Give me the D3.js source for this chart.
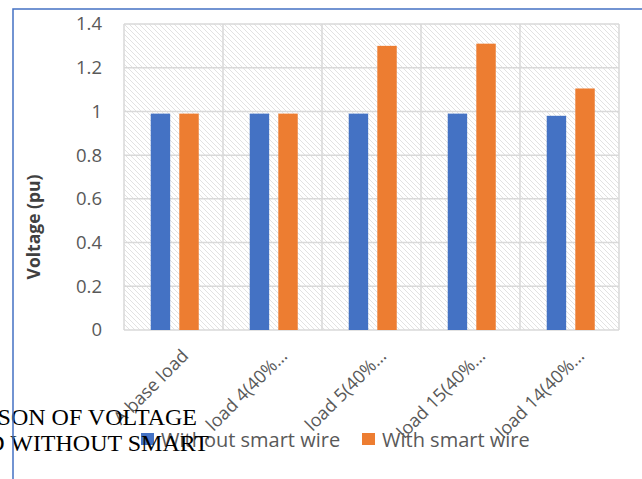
<!DOCTYPE html>
<html>
<head>
<meta charset="utf-8">
<script src="https://cdn.jsdelivr.net/npm/d3@7"></script>
<style>
  body { margin: 0; background: #fff; }
  svg { display: block; }
</style>
</head>
<body>
<div id="wrapper"></div>
<script>
// chart values
const categories = ["A base load", "load 4(40%…", "load 5(40%…", "load 15(40%…", "load 14(40%…"]
const seriesNames = ["Without smart wire", "With smart wire"]
const withoutSmartWire = [0.99, 0.99, 0.99, 0.99, 0.98]
const withSmartWire = [0.99, 0.99, 1.30, 1.31, 1.105]
const yTicks = [0, 0.2, 0.4, 0.6, 0.8, 1, 1.2, 1.4]
const titleLines = ["SON OF VOLTAGE", "D WITHOUT SMART"]

const colors = ["#4472c4", "#ed7d31"]
const gridColor = "#d9d9d9"
const textColor = "#595959"
const font = "'Open Sans', 'Liberation Sans', sans-serif"

const dims = {
    width: 642,
    height: 479,
    margin: { top: 24, right: 23, bottom: 149, left: 124 }
}
dims.boundWidth = dims.width - dims.margin.left - dims.margin.right
dims.boundHeight = dims.height - dims.margin.top - dims.margin.bottom

const svg = d3.select("#wrapper")
    .append("svg")
        .attr("width", dims.width)
        .attr("height", dims.height)

// light diagonal hatch for the plot area
const defs = svg.append("defs")
const pattern = defs.append("pattern")
    .attr("id", "hatch")
    .attr("patternUnits", "userSpaceOnUse")
    .attr("width", 5)
    .attr("height", 5)
pattern.append("rect").attr("width", 5).attr("height", 5).attr("fill", "#fff")
pattern.append("path")
    .attr("d", "M0,0 L5,5 M-1,4 L1,6 M4,-1 L6,1")
    .attr("stroke", "#e2e2e2")
    .attr("stroke-width", 1)

const bound = svg.append("g")
    .attr("transform", `translate(${dims.margin.left},${dims.margin.top})`)

const yScale = d3.scaleLinear()
    .domain([0, 1.4])
    .range([dims.boundHeight, 0])

const x0 = d3.scaleBand()
    .domain(categories)
    .range([0, dims.boundWidth])
    .padding(0)

const x1 = d3.scaleBand()
    .domain(seriesNames)
    .range([x0.bandwidth() * 0.27, x0.bandwidth() * 0.755])
    .paddingInner(0.32)

bound.append("rect")
    .attr("width", dims.boundWidth)
    .attr("height", dims.boundHeight)
    .attr("fill", "url(#hatch)")

// horizontal grid
bound.append("g")
    .selectAll("line")
    .data(yTicks)
    .join("line")
        .attr("x1", 0)
        .attr("x2", dims.boundWidth)
        .attr("y1", d => yScale(d))
        .attr("y2", d => yScale(d))
        .attr("stroke", gridColor)
        .attr("stroke-width", 1.5)

// vertical grid at category edges
const edges = categories.map(c => x0(c)).concat([dims.boundWidth])
bound.append("g")
    .selectAll("line")
    .data(edges)
    .join("line")
        .attr("x1", d => d)
        .attr("x2", d => d)
        .attr("y1", 0)
        .attr("y2", dims.boundHeight)
        .attr("stroke", gridColor)
        .attr("stroke-width", 1.5)

// bars
const table = categories.map((c, i) => ({
    category: c,
    values: [withoutSmartWire[i], withSmartWire[i]]
}))

const groups = bound.append("g")
    .selectAll("g")
    .data(table)
    .join("g")
        .attr("transform", d => `translate(${x0(d.category)},0)`)

groups.selectAll("rect")
    .data(d => d.values.map((v, i) => ({ name: seriesNames[i], value: v, i })))
    .join("rect")
        .attr("x", d => x1(d.name))
        .attr("width", x1.bandwidth())
        .attr("y", d => yScale(d.value))
        .attr("height", d => dims.boundHeight - yScale(d.value))
        .attr("fill", d => colors[d.i])

// y axis labels
const yAxis = d3.axisLeft(yScale)
    .tickValues(yTicks)
    .tickFormat(d3.format("~g"))
    .tickSize(0)
    .tickPadding(22)

bound.append("g")
    .call(yAxis)
    .call(g => g.select(".domain").remove())
    .selectAll("text")
        .attr("fill", textColor)
        .style("font-family", font)
        .style("font-size", "18.5px")

// x axis labels, rotated
bound.append("g")
    .selectAll("text")
    .data(categories)
    .join("text")
        .attr("transform", d => `translate(${x0(d) + x0.bandwidth() / 2 + 16},${dims.boundHeight + 27}) rotate(-45)`)
        .attr("text-anchor", "end")
        .attr("fill", textColor)
        .style("font-family", font)
        .style("font-size", "18px")
        .text(d => d)

// y axis title
svg.append("text")
    .attr("transform", "translate(40,227) rotate(-90)")
    .attr("text-anchor", "middle")
    .attr("fill", "#404040")
    .style("font-family", font)
    .style("font-size", "17.5px")
    .style("font-weight", "bold")
    .text("Voltage (pu)")

// legend
const legend = svg.append("g")
const legendX = [141, 362]
seriesNames.forEach((name, i) => {
    legend.append("rect")
        .attr("x", legendX[i])
        .attr("y", 433)
        .attr("width", 13)
        .attr("height", 12)
        .attr("fill", colors[i])
    legend.append("text")
        .attr("x", legendX[i] + 20)
        .attr("y", 447)
        .attr("fill", textColor)
        .style("font-family", font)
        .style("font-size", "20px")
        .text(name)
})

// stray caption text from the source page, clipped at the left edge
svg.append("g")
    .selectAll("text")
    .data(titleLines)
    .join("text")
        .attr("x", (d, i) => i === 0 ? 197 : 209)
        .attr("y", (d, i) => 425 + i * 26)
        .attr("text-anchor", "end")
        .attr("fill", "#000")
        .style("font-family", "'Liberation Serif', 'Times New Roman', serif")
        .style("font-size", "24px")
        .text(d => d)

// blue frame of the chart area
svg.append("path")
    .attr("d", `M13,${dims.height} L13,9 L${dims.width},9`)
    .attr("fill", "none")
    .attr("stroke", "#4472c4")
    .attr("stroke-width", 1.5)
</script>
</body>
</html>
